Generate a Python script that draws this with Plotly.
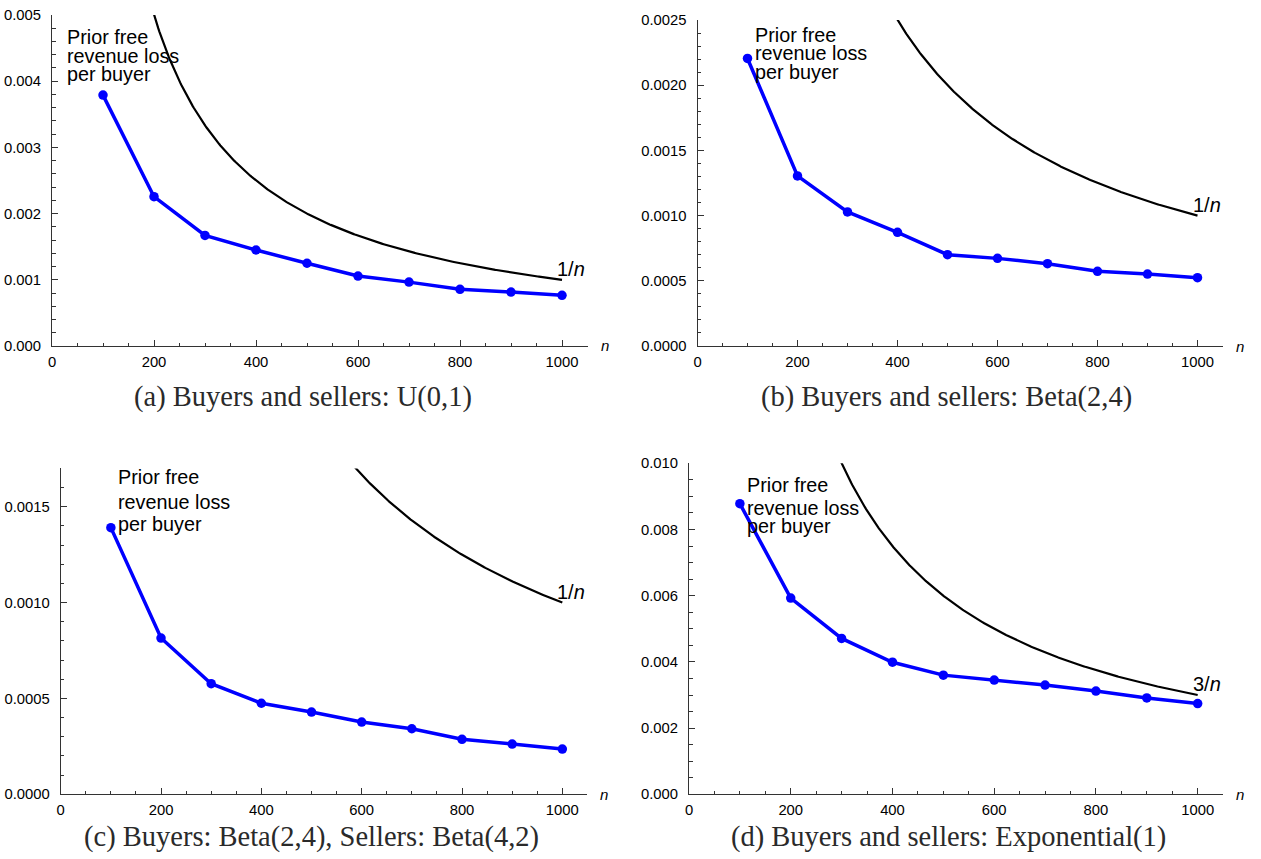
import numpy as np
import plotly.graph_objects as go

# ---------------- data ----------------
n_values = [100, 200, 300, 400, 500, 600, 700, 800, 900, 1000]
loss_a = [0.00379, 0.002255, 0.00167, 0.00145, 0.00125, 0.001057, 0.000965, 0.000856, 0.000815, 0.000766]
loss_b = [0.002205, 0.001304, 0.001028, 0.000872, 0.000700, 0.000672, 0.000631, 0.000573, 0.000552, 0.000524]
loss_c = [0.001391, 0.000815, 0.000577, 0.000475, 0.000429, 0.000377, 0.000342, 0.000287, 0.000262, 0.000236]
loss_d = [0.00878, 0.00593, 0.00471, 0.00399, 0.00360, 0.00345, 0.00330, 0.00312, 0.00291, 0.00274]
losses = [loss_a, loss_b, loss_c, loss_d]

bound_coef = [1, 1, 1, 3]
bound_labels = ["1/<i>n</i>", "1/<i>n</i>", "1/<i>n</i>", "3/<i>n</i>"]
series_label = ["Prior free", "revenue loss", "per buyer"]
captions = [
    "(a) Buyers and sellers: U(0,1)",
    "(b) Buyers and sellers: Beta(2,4)",
    "(c) Buyers: Beta(2,4), Sellers: Beta(4,2)",
    "(d) Buyers and sellers: Exponential(1)",
]
y_max = [0.005, 0.0025, 0.0017, 0.010]
y_dtick = [0.001, 0.0005, 0.0005, 0.002]
y_minor = [0.0002, 0.0001, 0.0001, 0.0005]
y_format = [".3f", ".4f", ".4f", ".3f"]
x_max = 1050

# ---------------- layout geometry (pixels) ----------------
W, H = 1261, 859
panels_px = [
    dict(x0=52, x1=587.5, y_top=15, y_bot=346),
    dict(x0=697.5, x1=1222.5, y_top=20, y_bot=346),
    dict(x0=60.7, x1=587.4, y_top=468.4, y_bot=794.3),
    dict(x0=689, x1=1223.1, y_top=463.3, y_bot=794.3),
]
label_px = [
    (65, [36.7, 56, 74]),
    (752.7, [35, 53.3, 71.7]),
    (116, [476.7, 501.7, 524]),
    (745, [485, 508.3, 526]),
]
caption_px = [(303.3, 397), (946, 397), (311.5, 837), (948.5, 837)]


def px_x(x):
    return x / W


def px_y(y):
    return 1 - y / H


fig = go.Figure()
annotations = []
tick_font = dict(family="Liberation Sans, Arial, sans-serif", size=14.8, color="black")
label_font = dict(family="Liberation Sans, Arial, sans-serif", size=19.8, color="black")
axis_color = "#333333"

for i in range(4):
    xa = "x" if i == 0 else f"x{i+1}"
    ya = "y" if i == 0 else f"y{i+1}"
    p = panels_px[i]

    # bound curve c/n
    nn = np.linspace(100, 1000, 400)
    fig.add_trace(go.Scatter(
        x=nn, y=bound_coef[i] / nn, mode="lines",
        line=dict(color="black", width=2.2),
        xaxis=xa, yaxis=ya, showlegend=False, hoverinfo="skip",
    ))
    # data series
    fig.add_trace(go.Scatter(
        x=n_values, y=losses[i], mode="lines+markers",
        line=dict(color="#0000FF", width=3.5),
        marker=dict(color="#0000FF", size=9.5),
        xaxis=xa, yaxis=ya, showlegend=False, cliponaxis=False,
    ))

    xkey = "xaxis" if i == 0 else f"xaxis{i+1}"
    ykey = "yaxis" if i == 0 else f"yaxis{i+1}"
    fig.update_layout(**{
        xkey: dict(
            domain=[px_x(p["x0"]), px_x(p["x1"])], anchor=ya,
            range=[0, x_max], dtick=200, tick0=0, automargin=False,
            showline=True, linecolor=axis_color, linewidth=1,
            ticks="inside", ticklen=6, tickcolor=axis_color, tickwidth=1,
            minor=dict(dtick=50, tick0=0, ticks="inside", ticklen=3.5,
                       tickcolor=axis_color, showgrid=False),
            showgrid=False, zeroline=False, tickfont=tick_font,
            ticklabelstandoff=2,
        ),
        ykey: dict(
            domain=[px_y(p["y_bot"]), px_y(p["y_top"])], anchor=xa,
            range=[0, y_max[i]], dtick=y_dtick[i], tick0=0, automargin=False,
            tickformat=y_format[i],
            showline=True, linecolor=axis_color, linewidth=1,
            ticks="inside", ticklen=6, tickcolor=axis_color, tickwidth=1,
            minor=dict(dtick=y_minor[i], tick0=0, ticks="inside", ticklen=3.5,
                       tickcolor=axis_color, showgrid=False),
            showgrid=False, zeroline=False, tickfont=tick_font,
            ticklabelstandoff=7,
        ),
    })

    # bound label near the curve end
    annotations.append(dict(
        x=1000, y=bound_coef[i] / 1000, xref=xa, yref=ya,
        text=bound_labels[i], showarrow=False,
        font=dict(family="Liberation Sans, Arial, sans-serif", size=20, color="black"),
        xanchor="center", yanchor="middle", xshift=9, yshift=11,
    ))
    # axis label n
    annotations.append(dict(
        x=x_max, y=0, xref=xa, yref=ya, text="<i>n</i>", showarrow=False,
        font=dict(family="Liberation Sans, Arial, sans-serif", size=15, color="black"),
        xanchor="center", yanchor="middle", xshift=17, yshift=0,
    ))
    # series label lines
    lx, lys = label_px[i]
    for txt, ly in zip(series_label, lys):
        annotations.append(dict(
            x=px_x(lx), y=px_y(ly), xref="paper", yref="paper",
            text=txt, showarrow=False, font=label_font,
            xanchor="left", yanchor="middle",
        ))
    # caption
    cx, cy = caption_px[i]
    annotations.append(dict(
        x=px_x(cx), y=px_y(cy), xref="paper", yref="paper",
        text=captions[i], showarrow=False,
        font=dict(family="Liberation Serif, Times New Roman, serif", size=28.5, color="#2a2a2a"),
        xanchor="center", yanchor="middle",
    ))

fig.update_layout(
    width=W, height=H, autosize=False,
    margin=dict(l=0, r=0, t=0, b=0, pad=0),
    paper_bgcolor="white", plot_bgcolor="white",
    annotations=annotations,
    showlegend=False,
)

fig.write_html(
    "out.html",
    config={"displayModeBar": False},
    post_script="document.body.style.margin='0';",
)
